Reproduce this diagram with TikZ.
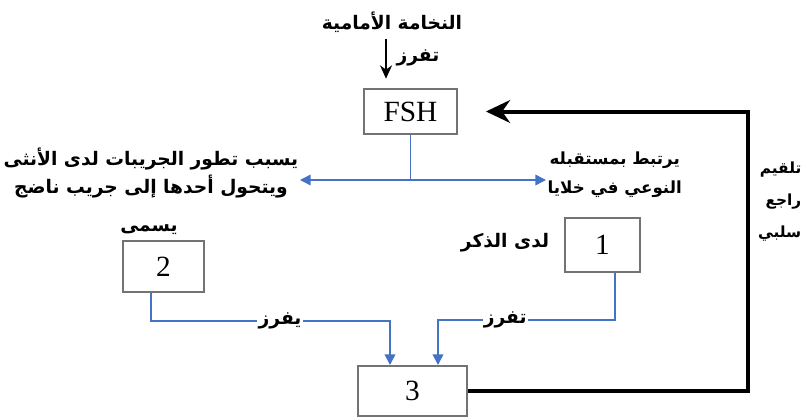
\documentclass[tikz,border=0pt]{standalone}
\usepackage{fontspec}
\usetikzlibrary{positioning,calc,arrows.meta}
\newfontfamily\arabicfont[Script=Arabic]{DejaVu Sans}
\newfontfamily\romfont{Liberation Serif}
\TeXXeTstate=1
\definecolor{hormblue}{HTML}{4472C4}
\tikzset{
    scheme/.style={x=0.75pt,y=-0.75pt,semithick},
    organ/.style={rectangle,draw=black!55,line width=1.5pt,fill=white,
                  font=\romfont\fontsize{22}{24}\selectfont},
    arab/.style={font=\arabicfont\bfseries\fontsize{14}{21}\selectfont,
                 align=center,inner sep=1pt},
    flow/.style={draw=hormblue,line width=1.1pt,-{Triangle[length=8pt,width=8pt]}},
    stem/.style={draw=hormblue,line width=1.1pt},
    fback/.style={line width=3pt,-{Stealth[length=18pt,width=17pt]},shorten >=21pt},
    secr/.style={line width=1.5pt,-{Stealth[length=10pt,width=9pt]}},
    }

\begin{document}
\begin{tikzpicture}[scheme]
    \useasboundingbox (0,0) rectangle (804,418);

    \node[organ, minimum width=69.75pt, minimum height=33.75pt] (fsh) at (410.5,111.5) {FSH};
    \node[organ, minimum width=56.25pt, minimum height=40.5pt] (b1) at (602.5,245) {1};
    \node[organ, minimum width=60.75pt, minimum height=38.25pt] (b2) at (163.5,266.5) {2};
    \node[organ, minimum width=81.75pt, minimum height=37.5pt] (b3) at (412.5,391) {3};

    \node[arab] (title) at (392,22) {\beginR النخامة الأمامية\endR};
    \node[arab] (sec0) at (418,58) {\beginR تفرز\endR};
    \node[arab, anchor=east] (lefttext) at (300,173)
        {\beginR يسبب تطور الجريبات لدى الأنثى\endR\\ \beginR ويتحول أحدها إلى جريب ناضج\endR};
    \node[arab, anchor=west, font=\arabicfont\bfseries\fontsize{12.5}{22}\selectfont] (righttext) at (546,175)
        {\beginR يرتبط بمستقبله\endR\\ \beginR النوعي في خلايا\endR};
    \node[arab] (male) at (505,243) {\beginR لدى الذكر\endR};
    \node[arab] (named) at (149,230) {\beginR يسمى\endR};
    \node[arab, anchor=east, align=right, font=\arabicfont\bfseries\fontsize{11.5}{24}\selectfont]
        (fbtext) at (803,202) {\beginR تلقيم\endR\\ \beginR راجع\endR\\ \beginR سلبي\endR};

    \coordinate (ts) at ($(title.south)+(-6,0)$);
    \draw[secr, shorten <=4pt, shorten >=7pt] (ts) -- (ts |- fsh.north);

    \coordinate (split) at (fsh.south |- 0,180);
    \draw[stem] (fsh.south) -- (split);
    \draw[flow] (split) -- (split -| lefttext.east);
    \draw[flow] (split) -- (split -| righttext.west);

    \coordinate (out2) at ($(b2.south)+(-12.5,0)$);
    \coordinate (in2) at (390,321);
    \draw[flow] (out2) |- node[pos=0.77, arab, fill=white] (sec2) {\beginR يفرز\endR} (in2) -- (in2 |- b3.north);

    \coordinate (out1) at ($(b1.south)+(12.5,0)$);
    \coordinate (in1) at (438,320);
    \draw[flow] (out1) |- node[pos=0.81, arab, fill=white] (sec1) {\beginR تفرز\endR} (in1) -- (in1 |- b3.north);

    \coordinate (fbx) at (748,0);
    \draw[fback] (b3.east) -- (b3.east -| fbx) |- (fsh.east);
\end{tikzpicture}
\end{document}
